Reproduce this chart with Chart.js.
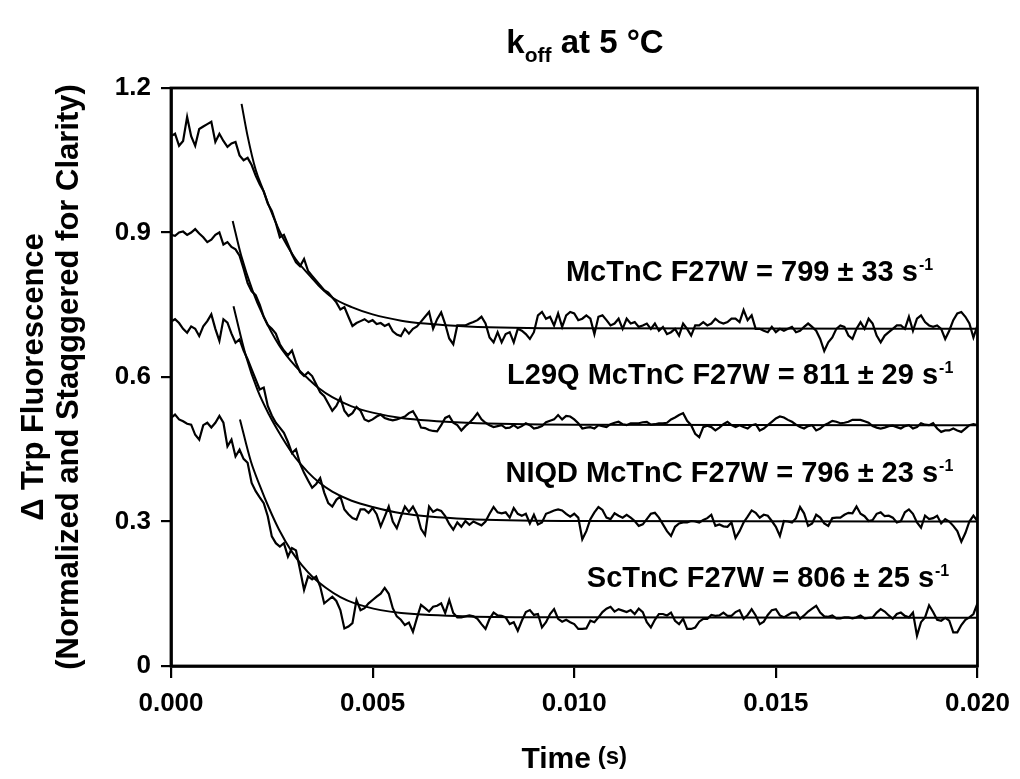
<!DOCTYPE html>
<html lang="en">
<head>
<meta charset="UTF-8">
<title>koff at 5 °C</title>
<script src="https://cdn.jsdelivr.net/npm/chart.js@4/dist/chart.umd.min.js"></script>
<style>
    body { margin: 0; background: #fff; }
    canvas { display: block; }
</style>
</head>
<body>
<canvas id="grafico" width="1020" height="779"></canvas>
<script>
// stopped-flow traces, one sample every 0.1 ms (0 to 20 ms)
const sampleStep = 0.0001;

const traceMcTnC = [
    1.100, 1.105, 1.080, 1.090, 1.140, 1.100, 1.080, 1.115, 1.120, 1.125,
    1.130, 1.088, 1.105, 1.090, 1.078, 1.085, 1.088, 1.060, 1.050, 1.055,
    1.040, 1.018, 1.000, 0.985, 0.960, 0.945, 0.920, 0.890, 0.895, 0.875,
    0.855, 0.838, 0.830, 0.845, 0.820, 0.810, 0.800, 0.790, 0.780, 0.775,
    0.765, 0.755, 0.740, 0.745, 0.725, 0.706, 0.712, 0.716, 0.720, 0.714,
    0.718, 0.710, 0.712, 0.706, 0.710, 0.695, 0.688, 0.685, 0.700, 0.690,
    0.700, 0.705, 0.715, 0.725, 0.735, 0.700, 0.720, 0.734, 0.710, 0.680,
    0.668,
    0.707, 0.707, 0.707, 0.711, 0.714, 0.718, 0.725, 0.711, 0.682, 0.672,
    0.693, 0.672, 0.689, 0.693, 0.672, 0.700, 0.696, 0.689, 0.679, 0.693,
    0.728, 0.735, 0.721, 0.725, 0.707, 0.732, 0.704, 0.728, 0.735, 0.732,
    0.718, 0.721, 0.728, 0.721, 0.689, 0.725, 0.728, 0.718, 0.707, 0.711,
    0.721, 0.700, 0.721, 0.711, 0.714, 0.704, 0.707, 0.711, 0.700, 0.711,
    0.696, 0.704, 0.689, 0.693, 0.700, 0.686, 0.711, 0.700, 0.686, 0.707,
    0.707, 0.714, 0.707, 0.711, 0.721, 0.714, 0.711, 0.714, 0.721, 0.721,
    0.714, 0.739, 0.718, 0.728, 0.700, 0.700, 0.696, 0.693, 0.704, 0.693,
    0.700, 0.696, 0.700, 0.704, 0.693, 0.696, 0.704, 0.711, 0.704, 0.696,
    0.679, 0.654, 0.672, 0.682, 0.700, 0.707, 0.704, 0.686, 0.679, 0.700,
    0.714, 0.700, 0.721, 0.711, 0.686, 0.672, 0.686, 0.693, 0.700, 0.707,
    0.707, 0.700, 0.725, 0.696, 0.721, 0.728, 0.714, 0.707, 0.704, 0.707,
    0.700, 0.679, 0.696, 0.718, 0.732, 0.735, 0.725, 0.711, 0.682, 0.707
];

const traceL29Q = [
    0.895, 0.893, 0.900, 0.902, 0.895, 0.900, 0.907, 0.898, 0.890, 0.880,
    0.885, 0.895, 0.900, 0.875, 0.880, 0.870, 0.865, 0.852, 0.825, 0.795,
    0.778, 0.770, 0.750, 0.725, 0.708, 0.700, 0.690, 0.668, 0.655, 0.645,
    0.655, 0.630, 0.610, 0.602, 0.610, 0.602, 0.585, 0.568, 0.560, 0.545,
    0.530, 0.540, 0.557, 0.530, 0.519, 0.525, 0.538, 0.530, 0.512, 0.508,
    0.512, 0.518, 0.522, 0.515, 0.512, 0.510, 0.512, 0.515, 0.518, 0.525,
    0.529, 0.515, 0.495, 0.494, 0.490, 0.488, 0.487, 0.500, 0.515, 0.519,
    0.505,
    0.500, 0.489, 0.498, 0.505, 0.514, 0.525, 0.512, 0.505, 0.500, 0.496,
    0.498, 0.500, 0.494, 0.495, 0.500, 0.494, 0.498, 0.504, 0.500, 0.493,
    0.495, 0.498, 0.506, 0.509, 0.512, 0.521, 0.512, 0.519, 0.518, 0.512,
    0.504, 0.493, 0.495, 0.496, 0.493, 0.500, 0.498, 0.496, 0.502, 0.505,
    0.507, 0.502, 0.500, 0.504, 0.504, 0.504, 0.506, 0.507, 0.501, 0.502,
    0.504, 0.504, 0.505, 0.512, 0.516, 0.521, 0.525, 0.509, 0.500, 0.482,
    0.475, 0.496, 0.499, 0.496, 0.489, 0.495, 0.502, 0.507, 0.500, 0.496,
    0.500, 0.496, 0.493, 0.500, 0.502, 0.489, 0.493, 0.500, 0.507, 0.514,
    0.518, 0.516, 0.511, 0.507, 0.501, 0.496, 0.493, 0.498, 0.500, 0.489,
    0.493, 0.500, 0.504, 0.509, 0.507, 0.504, 0.505, 0.507, 0.511, 0.511,
    0.511, 0.508, 0.505, 0.498, 0.495, 0.493, 0.495, 0.498, 0.499, 0.496,
    0.493, 0.498, 0.500, 0.493, 0.496, 0.504, 0.501, 0.500, 0.504, 0.493,
    0.486, 0.489, 0.489, 0.493, 0.489, 0.486, 0.493, 0.500, 0.502, 0.500
];

const traceNIQD = [
    0.715, 0.720, 0.712, 0.700, 0.692, 0.705, 0.700, 0.685, 0.705, 0.716,
    0.730, 0.700, 0.675, 0.720, 0.713, 0.690, 0.671, 0.678, 0.655, 0.637,
    0.616, 0.595, 0.574, 0.578, 0.540, 0.520, 0.505, 0.495, 0.484, 0.465,
    0.442, 0.450, 0.420, 0.401, 0.385, 0.370, 0.378, 0.390, 0.360, 0.338,
    0.331, 0.345, 0.352, 0.325, 0.315, 0.307, 0.304, 0.325, 0.325, 0.318,
    0.328, 0.315, 0.290, 0.310, 0.331, 0.300, 0.286, 0.310, 0.331, 0.320,
    0.331, 0.315, 0.285, 0.272, 0.331, 0.320, 0.325, 0.322, 0.311, 0.295,
    0.283,
    0.298, 0.289, 0.301, 0.293, 0.300, 0.296, 0.292, 0.300, 0.316, 0.330,
    0.319, 0.317, 0.319, 0.308, 0.328, 0.316, 0.312, 0.316, 0.296, 0.314,
    0.294, 0.298, 0.316, 0.319, 0.323, 0.325, 0.323, 0.316, 0.310, 0.316,
    0.308, 0.263, 0.280, 0.305, 0.319, 0.330, 0.324, 0.308, 0.305, 0.317,
    0.312, 0.308, 0.314, 0.308, 0.301, 0.291, 0.294, 0.305, 0.316, 0.318,
    0.308, 0.294, 0.280, 0.270, 0.289, 0.296, 0.298, 0.298, 0.301, 0.300,
    0.298, 0.303, 0.307, 0.314, 0.291, 0.294, 0.290, 0.289, 0.298, 0.266,
    0.280, 0.298, 0.310, 0.323, 0.318, 0.308, 0.314, 0.312, 0.301, 0.289,
    0.270, 0.301, 0.300, 0.298, 0.307, 0.330, 0.317, 0.291, 0.296, 0.314,
    0.308, 0.296, 0.291, 0.307, 0.308, 0.308, 0.314, 0.318, 0.317, 0.331,
    0.316, 0.311, 0.301, 0.303, 0.316, 0.319, 0.311, 0.312, 0.308, 0.298,
    0.301, 0.319, 0.325, 0.316, 0.298, 0.287, 0.312, 0.305, 0.307, 0.312,
    0.296, 0.305, 0.300, 0.291, 0.280, 0.258, 0.276, 0.300, 0.312, 0.301
];

const traceScTnC = [
    0.515, 0.522, 0.512, 0.508, 0.503, 0.501, 0.480, 0.470, 0.500, 0.505,
    0.495, 0.505, 0.519, 0.505, 0.456, 0.470, 0.435, 0.449, 0.430, 0.422,
    0.380, 0.363, 0.350, 0.338, 0.311, 0.269, 0.255, 0.248, 0.255, 0.227,
    0.245, 0.240, 0.200, 0.158, 0.186, 0.180, 0.186, 0.165, 0.130, 0.137,
    0.144, 0.135, 0.116, 0.078, 0.082, 0.089, 0.137, 0.116, 0.120, 0.130,
    0.137, 0.144, 0.150, 0.162, 0.150, 0.120, 0.103, 0.096, 0.085, 0.090,
    0.071, 0.100, 0.127, 0.120, 0.113, 0.123, 0.125, 0.130, 0.110, 0.137,
    0.110,
    0.101, 0.101, 0.103, 0.105, 0.103, 0.098, 0.087, 0.077, 0.098, 0.111,
    0.105, 0.104, 0.101, 0.087, 0.091, 0.073, 0.094, 0.112, 0.116, 0.106,
    0.108, 0.080, 0.091, 0.108, 0.118, 0.098, 0.092, 0.096, 0.091, 0.087,
    0.077, 0.077, 0.078, 0.094, 0.091, 0.101, 0.112, 0.119, 0.123, 0.113,
    0.118, 0.115, 0.112, 0.116, 0.108, 0.119, 0.112, 0.091, 0.080, 0.096,
    0.108, 0.108, 0.105, 0.111, 0.094, 0.087, 0.098, 0.077, 0.077, 0.080,
    0.092, 0.098, 0.098, 0.106, 0.104, 0.105, 0.111, 0.104, 0.104, 0.112,
    0.116, 0.098, 0.106, 0.118, 0.105, 0.087, 0.092, 0.106, 0.116, 0.118,
    0.105, 0.101, 0.106, 0.111, 0.111, 0.098, 0.105, 0.113, 0.119, 0.125,
    0.111, 0.103, 0.102, 0.105, 0.099, 0.099, 0.101, 0.101, 0.099, 0.101,
    0.105, 0.099, 0.100, 0.101, 0.111, 0.118, 0.113, 0.105, 0.098, 0.108,
    0.111, 0.104, 0.101, 0.111, 0.063, 0.091, 0.101, 0.126, 0.112, 0.096,
    0.094, 0.100, 0.094, 0.070, 0.070, 0.085, 0.096, 0.101, 0.108, 0.130
];

// exponential fits
const fitMcTnCTimes  = [0.00175, 0.0019, 0.0021, 0.0023, 0.00243, 0.00268, 0.0028, 0.00309, 0.0035, 0.00366, 0.0040, 0.00448, 0.0050, 0.00571, 0.0063, 0.00735, 0.0100, 0.0200];
const fitMcTnCValues = [1.167, 1.100, 1.030, 0.985, 0.955, 0.905, 0.885, 0.845, 0.805, 0.790, 0.765, 0.745, 0.730, 0.717, 0.711, 0.705, 0.701, 0.700];

const fitL29QTimes  = [0.00153, 0.00174, 0.00202, 0.00227, 0.00268, 0.00309, 0.00342, 0.00366, 0.0040, 0.00448, 0.0050, 0.00571, 0.00735, 0.0100, 0.0200];
const fitL29QValues = [0.924, 0.852, 0.780, 0.730, 0.666, 0.622, 0.595, 0.577, 0.558, 0.539, 0.526, 0.515, 0.505, 0.501, 0.500];

const fitNIQDTimes  = [0.00155, 0.00186, 0.00215, 0.00243, 0.00275, 0.00309, 0.0034, 0.00366, 0.0040, 0.00448, 0.0050, 0.00571, 0.00735, 0.0100, 0.0200];
const fitNIQDValues = [0.747, 0.643, 0.572, 0.522, 0.475, 0.432, 0.402, 0.382, 0.362, 0.343, 0.330, 0.317, 0.305, 0.301, 0.300];

const fitScTnCTimes  = [0.00171, 0.00198, 0.0022, 0.00243, 0.00268, 0.0030, 0.00325, 0.0035, 0.00383, 0.0042, 0.00456, 0.0052, 0.00571, 0.00735, 0.0100, 0.0200];
const fitScTnCValues = [0.512, 0.425, 0.375, 0.328, 0.283, 0.237, 0.209, 0.186, 0.163, 0.143, 0.130, 0.116, 0.110, 0.103, 0.101, 0.100];

const rateLabels = [
    'McTnC F27W = 799 ± 33 s',
    'L29Q McTnC F27W = 811 ± 29 s',
    'NIQD McTnC F27W = 796 ± 23 s',
    'ScTnC F27W = 806 ± 25 s'
];

const yTicks = [0, 0.3, 0.6, 0.9, 1.2];
const xTicks = [0.000, 0.005, 0.010, 0.015, 0.020];

const fonte = '"Liberation Sans", Arial, sans-serif';

function traceData(values) {
    return values.map((v, i) => ({ x: i * sampleStep, y: v }));
}
function fitData(times, values) {
    return times.map((t, i) => ({ x: t, y: values[i] }));
}

const traceStyle = { borderColor: '#000', borderWidth: 2.2, pointRadius: 0, tension: 0, fill: false };
const fitStyle = { borderColor: '#000', borderWidth: 2, pointRadius: 0, cubicInterpolationMode: 'monotone', fill: false };

const datasets = [
    { label: 'McTnC', data: traceData(traceMcTnC), ...traceStyle },
    { label: 'L29Q', data: traceData(traceL29Q), ...traceStyle },
    { label: 'NIQD', data: traceData(traceNIQD), ...traceStyle },
    { label: 'ScTnC', data: traceData(traceScTnC), ...traceStyle },
    { label: 'fit McTnC', data: fitData(fitMcTnCTimes, fitMcTnCValues), ...fitStyle },
    { label: 'fit L29Q', data: fitData(fitL29QTimes, fitL29QValues), ...fitStyle },
    { label: 'fit NIQD', data: fitData(fitNIQDTimes, fitNIQDValues), ...fitStyle },
    { label: 'fit ScTnC', data: fitData(fitScTnCTimes, fitScTnCValues), ...fitStyle }
];

// where each rate label sits: right edge (time) and baseline (value)
const labelAnchors = [
    { x: 0.0189, y: 0.800 },
    { x: 0.0194, y: 0.585 },
    { x: 0.0194, y: 0.383 },
    { x: 0.0193, y: 0.164 }
];

// box around the plot (top and right sides)
const moldura = {
    id: 'moldura',
    afterDraw(chart) {
        const { ctx, chartArea: a } = chart;
        ctx.save();
        ctx.strokeStyle = '#000';
        ctx.lineWidth = 2.8;
        ctx.strokeRect(a.left, a.top, a.right - a.left, a.bottom - a.top);
        ctx.restore();
    }
};

// title with the "off" subscript, and the x-axis title with a smaller "(s)"
const titulo = {
    id: 'titulo',
    afterDraw(chart) {
        const ctx = chart.ctx;
        ctx.save();
        ctx.fillStyle = '#000';
        ctx.textBaseline = 'alphabetic';
        const big = 'bold 33px ' + fonte;
        const small = 'bold 21px ' + fonte;
        ctx.font = big;
        const wK = ctx.measureText('k').width;
        const wRest = ctx.measureText(' at 5 °C').width;
        ctx.font = small;
        const wSub = ctx.measureText('off').width;
        let x = 585 - (wK + wSub + wRest) / 2;
        const y = 53;
        ctx.font = big;
        ctx.fillText('k', x, y);
        x += wK;
        ctx.font = small;
        ctx.fillText('off', x, y + 9);
        x += wSub;
        ctx.font = big;
        ctx.fillText(' at 5 °C', x, y);

        const xs = chart.scales.x;
        const tBig = 'bold 30px ' + fonte;
        const tSmall = 'bold 24px ' + fonte;
        ctx.font = tBig;
        const wTime = ctx.measureText('Time').width;
        ctx.font = tSmall;
        const wS = ctx.measureText(' (s)').width;
        let tx = (xs.left + xs.right) / 2 - (wTime + wS) / 2;
        const ty = 768;
        ctx.font = tBig;
        ctx.fillText('Time', tx, ty);
        ctx.font = tSmall;
        ctx.fillText(' (s)', tx + wTime, ty - 4);
        ctx.restore();
    }
};

// rate constants written next to each trace
const rotulos = {
    id: 'rotulos',
    afterDraw(chart) {
        const { ctx, scales } = chart;
        ctx.save();
        ctx.fillStyle = '#000';
        ctx.textBaseline = 'alphabetic';
        rateLabels.forEach((txt, i) => {
            const xr = scales.x.getPixelForValue(labelAnchors[i].x);
            const yb = scales.y.getPixelForValue(labelAnchors[i].y);
            ctx.font = 'bold 16px ' + fonte;
            const wSup = ctx.measureText('-1').width;
            ctx.textAlign = 'left';
            ctx.fillText('-1', xr - wSup, yb - 11);
            ctx.font = 'bold 29px ' + fonte;
            ctx.textAlign = 'right';
            ctx.fillText(txt, xr - wSup - 1, yb);
        });
        ctx.restore();
    }
};

const ctx = document.getElementById('grafico').getContext('2d');
const grafico = new Chart(ctx, {
    type: 'line',
    data: { datasets },
    options: {
        responsive: false,
        animation: false,
        layout: { padding: { top: 88, right: 35, left: 0, bottom: 0 } },
        plugins: {
            legend: { display: false },
            tooltip: { enabled: false },
            title: { display: false }
        },
        scales: {
            x: {
                type: 'linear',
                min: 0,
                max: 0.02,
                afterBuildTicks: (s) => { s.ticks = xTicks.map(v => ({ value: v })); },
                afterFit: (s) => { s.height = 113; },
                ticks: {
                    color: '#000',
                    font: { family: fonte, size: 26, weight: 'bold' },
                    padding: 10,
                    maxRotation: 0,
                    callback: (v) => v.toFixed(3)
                },
                grid: { drawOnChartArea: false, tickLength: 12, color: '#000', lineWidth: 2.2 },
                border: { color: '#000', width: 2.8 }
            },
            y: {
                min: 0,
                max: 1.2,
                afterBuildTicks: (s) => { s.ticks = yTicks.map(v => ({ value: v })); },
                afterFit: (s) => { s.width = 171; },
                ticks: {
                    color: '#000',
                    font: { family: fonte, size: 26, weight: 'bold' },
                    padding: 10,
                    callback: (v) => v === 0 ? '0' : v.toFixed(1)
                },
                grid: { drawOnChartArea: false, tickLength: 10, color: '#000', lineWidth: 2.2 },
                border: { color: '#000', width: 2.8 },
                title: {
                    display: true,
                    text: ['\u0394 Trp Fluorescence', '(Normalized and Staqggered for Clarity)'],
                    color: '#000',
                    font: { family: fonte, size: 31, weight: 'bold', lineHeight: 1.12 },
                    padding: { top: 17, bottom: 0 }
                }
            }
        }
    },
    plugins: [moldura, titulo, rotulos]
});
</script>
</body>
</html>
